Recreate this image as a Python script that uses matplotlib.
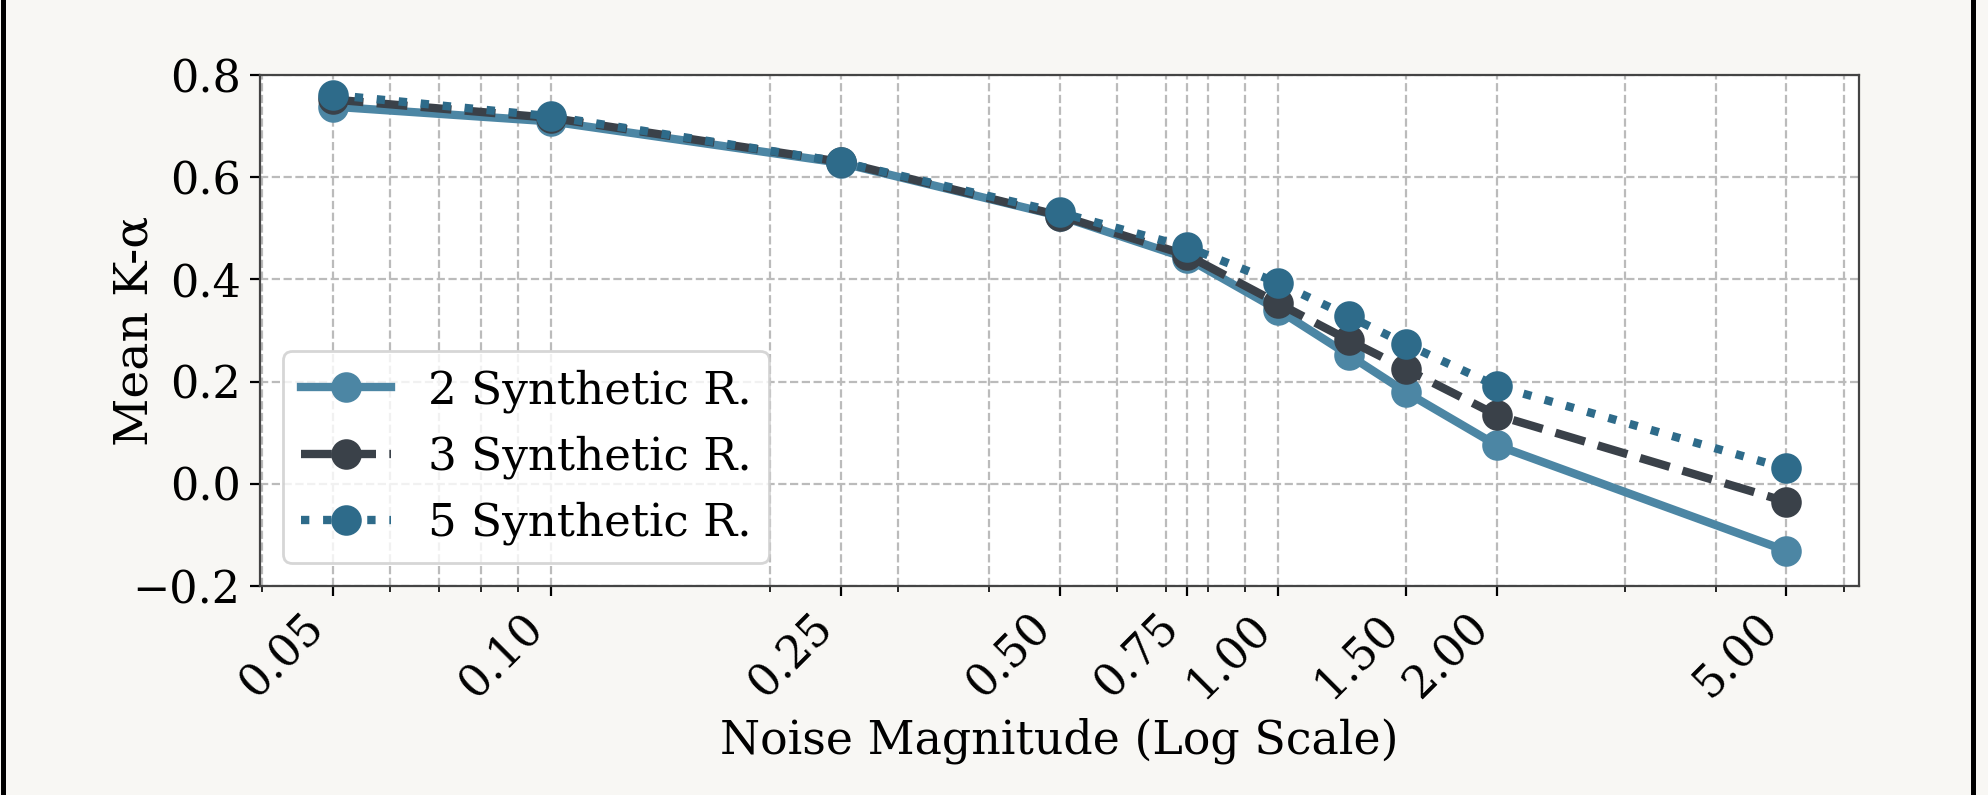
import numpy as np
import matplotlib.pyplot as plt
from matplotlib.patches import Rectangle

noise = [0.05, 0.1, 0.25, 0.5, 0.75, 1.0, 1.25, 1.5, 2.0, 5.0]
kalpha_2 = [0.738, 0.709, 0.628, 0.524, 0.441, 0.340, 0.252, 0.179, 0.075, -0.131]
kalpha_3 = [0.752, 0.716, 0.630, 0.525, 0.447, 0.353, 0.281, 0.224, 0.134, -0.035]
kalpha_5 = [0.761, 0.719, 0.630, 0.531, 0.463, 0.393, 0.328, 0.273, 0.191, 0.030]
tick_vals = [0.05, 0.1, 0.25, 0.5, 0.75, 1.0, 1.5, 2.0, 5.0]
tick_labels = ['0.05', '0.10', '0.25', '0.50', '0.75', '1.00', '1.50', '2.00', '5.00']

plt.rcParams['font.family'] = 'DejaVu Serif'
plt.rcParams['font.size'] = 16

fig = plt.figure(figsize=(9.94, 3.975), dpi=200, facecolor='#f8f7f4')
ax = fig.add_axes([0.1308, 0.2629, 0.8043, 0.6428])
ax.set_facecolor('white')

ax.plot(noise, kalpha_2, '-o', color='#4c86a4', lw=3, ms=10, label='2 Synthetic R.')
ax.plot(noise, kalpha_3, '--o', color='#3a4149', lw=3, ms=10, label='3 Synthetic R.')
ax.plot(noise, kalpha_5, ':o', color='#2e6b8a', lw=3, ms=10, label='5 Synthetic R.')

ax.set_xscale('log')
ax.set_xticks(tick_vals)
ax.set_xticklabels(tick_labels, rotation=45, ha='right')
ax.set_ylim(-0.2, 0.8)
ax.set_yticks([-0.2, 0.0, 0.2, 0.4, 0.6, 0.8])
ax.grid(True, which='both', linestyle='--', color='#bbbbbb', lw=0.8)
for s in ax.spines.values():
    s.set_color('#444444')
    s.set_linewidth(0.8)

ax.set_xlabel('Noise Magnitude (Log Scale)', fontsize=16.5)
ax.set_ylabel('Mean K-α', fontsize=17, labelpad=-9)
ax.legend(loc='lower left', fontsize=16.3)

# side bars of the frame
fig.add_artist(Rectangle((0.5 / 1988, 0), 5 / 1988, 1, transform=fig.transFigure,
                         color='black', lw=0))
fig.add_artist(Rectangle((1971 / 1988, 0), 5 / 1988, 1, transform=fig.transFigure,
                         color='black', lw=0))

fig.savefig('out.png', dpi=200, facecolor=fig.get_facecolor())
